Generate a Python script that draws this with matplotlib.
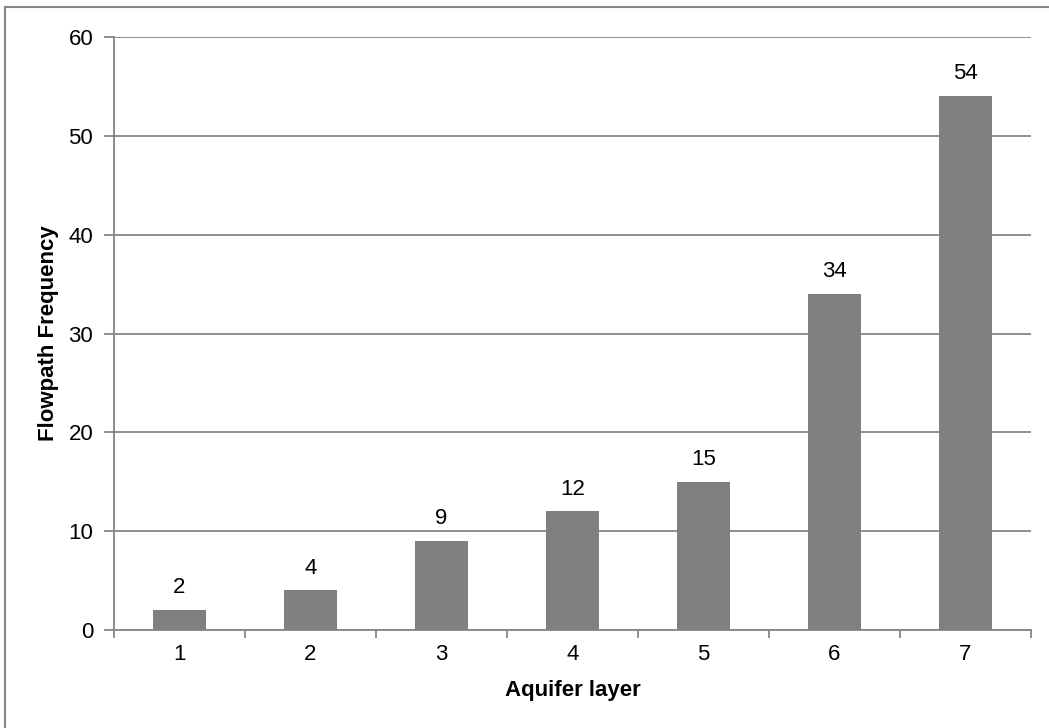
import matplotlib
matplotlib.use("Agg")
import matplotlib.pyplot as plt
from matplotlib.patches import Rectangle

layers = ["1", "2", "3", "4", "5", "6", "7"]
frequency = [2, 4, 9, 12, 15, 34, 54]
y_ticks = [0, 10, 20, 30, 40, 50, 60]

plt.rcParams['font.family'] = ['Liberation Sans', 'DejaVu Sans']
W, H = 1049, 728
fs = 16
fig = plt.figure(figsize=(W/100, H/100), dpi=100)
ax = fig.add_axes([114/W, 1-630/H, (1031-114)/W, (630-37)/H])

grid_c = '#868686'
x = list(range(len(layers)))
ax.bar(x, frequency, width=0.4, color='#808080', zorder=3)
for xi, v in zip(x, frequency):
    ax.annotate(str(v), (xi, v), xytext=(0, 8.5), textcoords='offset points',
                ha='center', va='bottom', fontsize=fs)

ax.set_xlim(-0.5, len(layers)-0.5)
ax.set_ylim(0, 60)
ax.set_yticks(y_ticks)
ax.set_yticklabels([str(t) for t in y_ticks], fontsize=fs)
ax.yaxis.grid(True, color=grid_c, linewidth=1.3, zorder=0)
ax.set_xticks(x)
ax.set_xticklabels(layers, fontsize=fs)
ax.set_xticks([i-0.5 for i in range(len(layers)+1)], minor=True)
ax.tick_params(axis='x', which='major', length=0, pad=10)
ax.tick_params(axis='x', which='minor', length=6, width=1.3, color=grid_c, direction='out')
ax.tick_params(axis='y', length=7, width=1.3, color=grid_c, direction='out', pad=8)
for s in ['top', 'right']:
    ax.spines[s].set_visible(False)
for s in ['left', 'bottom']:
    ax.spines[s].set_color(grid_c)
    ax.spines[s].set_linewidth(1.3)

ax.set_xlabel('Aquifer layer', fontsize=fs, fontweight='bold', labelpad=11)
ax.set_ylabel('Flowpath Frequency', fontsize=fs, fontweight='bold', labelpad=7)

fig.patches.append(Rectangle((5/W, -0.1), 1.1, 1.1 - 7/H, transform=fig.transFigure,
                             fill=False, edgecolor=grid_c, linewidth=1.5))
fig.savefig('out.png', dpi=100)
